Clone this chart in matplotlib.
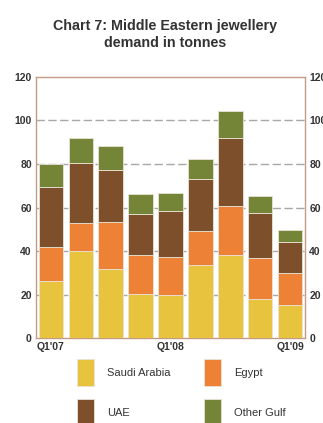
import matplotlib
matplotlib.use("Agg")
import matplotlib.pyplot as plt
from matplotlib.patches import Rectangle
import numpy as np

# Quarterly jewellery demand, tonnes
quarters = ["Q1'07", "Q2'07", "Q3'07", "Q4'07", "Q1'08", "Q2'08", "Q3'08", "Q4'08", "Q1'09"]
saudi_arabia = [26.4, 39.8, 31.9, 20.2, 19.6, 33.7, 38.0, 17.8, 15.3]
egypt = [15.3, 12.9, 21.4, 17.8, 17.8, 15.3, 22.7, 19.0, 14.7]
uae = [27.6, 27.6, 23.9, 19.0, 20.8, 23.9, 31.3, 20.8, 14.1]
other_gulf = [10.9, 11.5, 10.9, 9.1, 8.5, 9.2, 12.2, 7.8, 5.4]

series = [
    ("Saudi Arabia", saudi_arabia, "#e8c33d"),
    ("Egypt", egypt, "#ed8136"),
    ("UAE", uae, "#7d4f2b"),
    ("Other Gulf", other_gulf, "#748538"),
]
shown_ticks = ["Q1'07", "Q1'08", "Q1'09"]
y_ticks = [0, 20, 40, 60, 80, 100, 120]

NARROW = ["Liberation Sans Narrow", "Liberation Sans", "DejaVu Sans"]
TEXT_COLOR = "#333333"
SPINE_COLOR = "#c49c86"

fig = plt.figure(figsize=(3.23, 4.23), dpi=100)
ax = fig.add_axes([0.1115, 0.2009, 0.8328, 0.6171])

x = np.arange(len(quarters))
bottom = np.zeros(len(quarters))
for name, vals, color in series:
    ax.bar(x, vals, width=0.82, bottom=bottom, color=color,
           edgecolor="#e9e3d6", linewidth=0.6, zorder=3)
    bottom += np.array(vals)

ax.set_xlim(-0.5, len(quarters) - 0.5)
ax.set_ylim(0, 120)
ax.set_yticks(y_ticks)
ax.set_yticklabels([str(v) for v in y_ticks], fontsize=7.5, fontweight="bold",
                   color=TEXT_COLOR, family=NARROW)
ax.set_xticks([quarters.index(q) for q in shown_ticks])
ax.set_xticklabels(shown_ticks, fontsize=7.5, fontweight="bold",
                   color=TEXT_COLOR, family=NARROW)
ax.tick_params(axis="y", length=0, pad=3, labelright=True)
ax.tick_params(axis="x", length=0, pad=3)

for y in y_ticks[1:-1]:
    ax.axhline(y, color="#a8a8a8", linewidth=1.0, linestyle=(0, (6, 2.5)), zorder=1)

for side in ["left", "right", "top", "bottom"]:
    ax.spines[side].set_color(SPINE_COLOR)
    ax.spines[side].set_linewidth(1.0)

fig.text(0.51, 0.918, "Chart 7: Middle Eastern jewellery\ndemand in tonnes",
         ha="center", va="center", fontsize=10.3, fontweight="bold",
         color=TEXT_COLOR, family=NARROW, linespacing=1.3)

# Legend: two columns of tall swatches below the plot
W, H = 323.0, 423.0
legend_pos = [(77, 359), (204, 359), (77, 399), (204, 399)]
for (name, vals, color), (lx, ly) in zip(series, legend_pos):
    fig.patches.append(Rectangle((lx / W, 1 - (ly + 27) / H), 17 / W, 27 / H,
                                 transform=fig.transFigure, facecolor=color,
                                 edgecolor="#e9e3d6", linewidth=0.6))
    fig.text((lx + 30) / W, 1 - (ly + 13.5) / H, name, ha="left", va="center",
             fontsize=8, color=TEXT_COLOR, family=NARROW)

fig.savefig("out.png", dpi=100, facecolor="white")
